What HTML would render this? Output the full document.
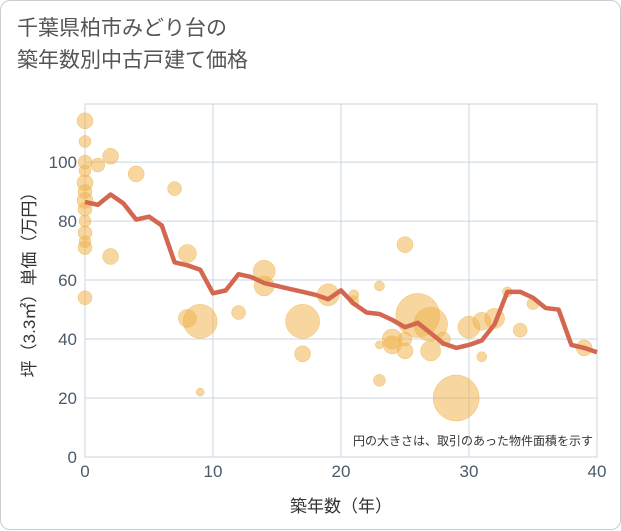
<!DOCTYPE html>
<html><head><meta charset="utf-8"><style>
body{margin:0;background:#fff;}
#wrap{position:relative;width:619px;height:528px;border:1px solid #ccc;border-radius:10px;background:#fff;font-family:"Liberation Sans","Noto Sans CJK JP",sans-serif;}
#title{position:absolute;left:16px;top:12px;font-size:21px;line-height:32px;color:#555;}
svg{position:absolute;left:0;top:0;}
</style></head><body>
<div id="wrap">
<div id="title">千葉県柏市みどり台の<br>築年数別中古戸建て価格</div>
<svg id="chart" width="621" height="530"></svg>
</div>
<script>
const years=[0,1,2,3,4,5,6,7,8,9,10,11,12,13,14,15,16,17,18,19,20,21,22,23,24,25,26,27,28,29,30,31,32,33,34,35,36,37,38,39,40];
const avgPrice=[86.5,85.5,89,86,80.5,81.5,78.5,66,65,63.5,55.5,56.5,62,61,59,58,57,56,55,53.5,56.5,52,49,48.5,46.5,44,45.5,42,38.5,37,38,39.5,45,56,56,54,50.5,50,38,37,35.5];
const bubX=[0,0,0,0,0,0,0,0,0,0,0,0,0,1,2,2,4,7,8,8,9,9,12,14,14,17,17,19,21,21,23,23,23,24,24,25,25,25,26,27,27,28,29,30,31,31,32,33,34,35,39];
const bubY=[114,107,100,97,93,90,87,84,80,76,73,71,54,99,102,68,96,91,69,47,46,22,49,63,58,46,35,55,55,53,58,26,38,40,38,72,36,40,48,45,36,40,20,44,46,34,47,56,43,52,37];
const bubR=[8,6,7,6,8,7,8,7,6,7,6,7,7,7,8,8,8,7,9,9,17,4,7,11,10,17,8,11,5,5,5,6,4,10,9,8,8,7,22,17,10,7,23,11,9,5,10,5,7,6,8];
const xTicks=[0,10,20,30,40];
const yTicks=[0,20,40,60,80,100];
const L=84,R=596,T=103,B=456,XMAX=40,YMAX=119.7;
const sx=v=>L+(R-L)*v/XMAX, sy=v=>B-(B-T)*v/YMAX;
const svg=document.getElementById('chart');const NS='http://www.w3.org/2000/svg';
function mk(t,a){const e=document.createElementNS(NS,t);for(const k in a)e.setAttribute(k,a[k]);svg.appendChild(e);return e;}
const bg=mk('rect',{x:L,y:T,width:R-L,height:B-T,fill:'#fff',stroke:'#c9d3dd'});


xTicks.forEach(v=>{const g=mk('line',{x1:sx(v),x2:sx(v),y1:T,y2:B,stroke:'#c9d6e2'});


const t=mk('text',{x:sx(v),y:B+20,'text-anchor':'middle','font-size':17,fill:'#4a5a6a'});t.textContent=v;

});
yTicks.forEach(v=>{const g=mk('line',{x1:L,x2:R,y1:sy(v),y2:sy(v),stroke:'#c9d6e2'});


const t=mk('text',{x:L-8,y:sy(v)+6,'text-anchor':'end','font-size':17,fill:'#4a5a6a'});t.textContent=v;

});
bubX.forEach((x,i)=>{const c=mk('circle',{cx:sx(x),cy:sy(bubY[i]),r:bubR[i],fill:'rgba(240,180,80,0.55)',stroke:'rgba(240,180,80,0.8)','stroke-width':0.5});

});
const p=mk('polyline',{points:years.map((x,i)=>sx(x)+','+sy(avgPrice[i])).join(' '),fill:'none',stroke:'#d4674f','stroke-width':4.5,'stroke-linejoin':'round'});


const note=mk('text',{x:592,y:444,'text-anchor':'end','font-size':12,fill:'#333'});note.textContent='円の大きさは、取引のあった物件面積を示す';


const xt=mk('text',{x:(L+R)/2,y:511,'text-anchor':'middle','font-size':17,fill:'#333'});xt.textContent='築年数（年）';


const yt=mk('text',{x:0,y:0,'text-anchor':'middle','font-size':17,fill:'#333',transform:'translate(34,'+((T+B)/2)+') rotate(-90)'});yt.textContent='坪（3.3㎡）単価（万円）';


</script>
</body></html>
